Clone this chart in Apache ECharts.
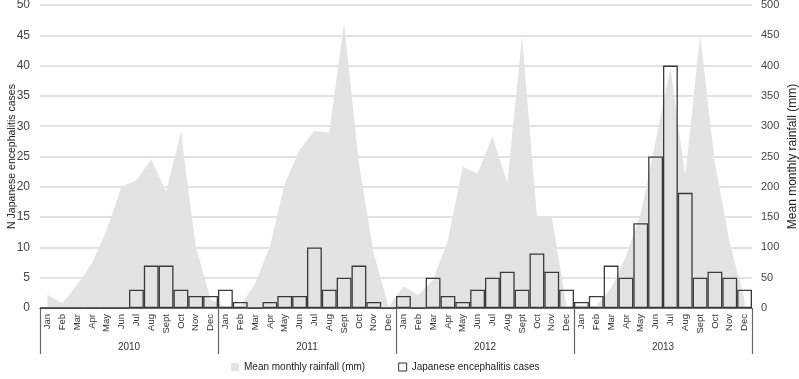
<!DOCTYPE html>
<html>
<head>
<meta charset="utf-8">
<script src="https://cdn.jsdelivr.net/npm/echarts@6/dist/echarts.min.js"></script>
<style>html,body{margin:0;padding:0;background:#fff}#c{width:799px;height:379px}</style>
</head>
<body>
<div id="c"></div>
<script>
var monthNames = ['Jan','Feb','Mar','Apr','May','Jun','Jul','Aug','Sept','Oct','Nov','Dec'];
var years = ['2010','2011','2012','2013'];
var jeCases = [
  0,0,0,0,0,0,3,7,7,3,2,2,
  3,1,0,1,2,2,10,3,5,7,1,0,
  2,0,5,2,1,3,5,6,3,9,6,3,
  1,2,7,5,14,25,40,19,5,6,5,3
];
var rainfall = [
  22,8,38,74,129,200,211,245,192,290,102,14,
  2,3,40,101,205,261,292,289,470,238,90,2,
  36,21,46,112,233,222,283,206,448,151,151,2,
  5,3,33,85,156,275,396,217,450,239,107,14
];
var months = [];
years.forEach(function(){ monthNames.forEach(function(m){ months.push(m); }); });

var font = 'Liberation Sans, Arial, sans-serif';
var chart = echarts.init(document.getElementById('c'));
chart.setOption({
  animation: false,
  textStyle: {fontFamily: font},
  grid: {left: 40, right: 47, top: 5, bottom: 71, containLabel: false, outerBoundsMode: 'none'},
  legend: {
    left: 226, top: 357, itemWidth: 8, itemHeight: 8, itemGap: 33,
    textStyle: {fontSize: 10, color: '#222', fontFamily: font},
    data: [
      {name: 'Mean monthly rainfall (mm)', icon: 'rect', itemStyle: {color: '#e3e3e3'}},
      {name: 'Japanese encephalitis cases', icon: 'rect', itemStyle: {color: '#fff', borderColor: '#333', borderWidth: 1}}
    ]
  },
  xAxis: [
    {
      type: 'category', data: months, boundaryGap: true,
      axisLine: {show: true, lineStyle: {color: '#666', width: 1.2}},
      axisTick: {show: false},
      axisLabel: {rotate: 90, fontSize: 9.5, color: '#333', margin: 6, interval: 0}
    },
    {
      type: 'category', data: years, position: 'bottom', boundaryGap: true,
      axisLine: {show: false},
      axisTick: {show: true, length: 46, lineStyle: {color: '#666', width: 1.2}},
      axisLabel: {fontSize: 10, color: '#333', margin: 34}
    }
  ],
  yAxis: [
    {
      type: 'value', min: 0, max: 50, interval: 5,
      name: 'N Japanese encephalitis cases', nameLocation: 'middle', nameGap: 22, nameRotate: 90,
      nameMoveOverlap: false,
      nameTextStyle: {fontSize: 10.5, color: '#222', fontFamily: 'Liberation Sans Narrow, Liberation Sans, Arial, sans-serif'},
      axisLine: {show: false}, axisTick: {show: false},
      axisLabel: {fontSize: 12, color: '#444', margin: 10},
      splitLine: {lineStyle: {color: '#d9d9d9', width: 1.5}}
    },
    {
      type: 'value', min: 0, max: 500, interval: 50, position: 'right',
      name: 'Mean monthly rainfall (mm)', nameLocation: 'middle', nameGap: 35, nameRotate: 90,
      nameMoveOverlap: false,
      nameTextStyle: {fontSize: 12, color: '#222'},
      axisLine: {show: false}, axisTick: {show: false},
      axisLabel: {fontSize: 11, color: '#444', margin: 9},
      splitLine: {show: false}
    }
  ],
  series: [
    {
      name: 'Mean monthly rainfall (mm)', type: 'line', xAxisIndex: 0, yAxisIndex: 1,
      data: rainfall, symbol: 'none', smooth: false,
      lineStyle: {width: 0, color: '#e3e3e3'},
      areaStyle: {color: '#e3e3e3', opacity: 1},
      itemStyle: {color: '#e3e3e3'},
      z: 1
    },
    {
      name: 'Japanese encephalitis cases', type: 'bar', xAxisIndex: 0, yAxisIndex: 0,
      data: jeCases, barCategoryGap: '0%',
      itemStyle: {color: 'rgba(255,255,255,0)', borderColor: '#3a3a3a', borderWidth: 1.3},
      z: 3
    }
  ]
});
</script>
</body>
</html>
